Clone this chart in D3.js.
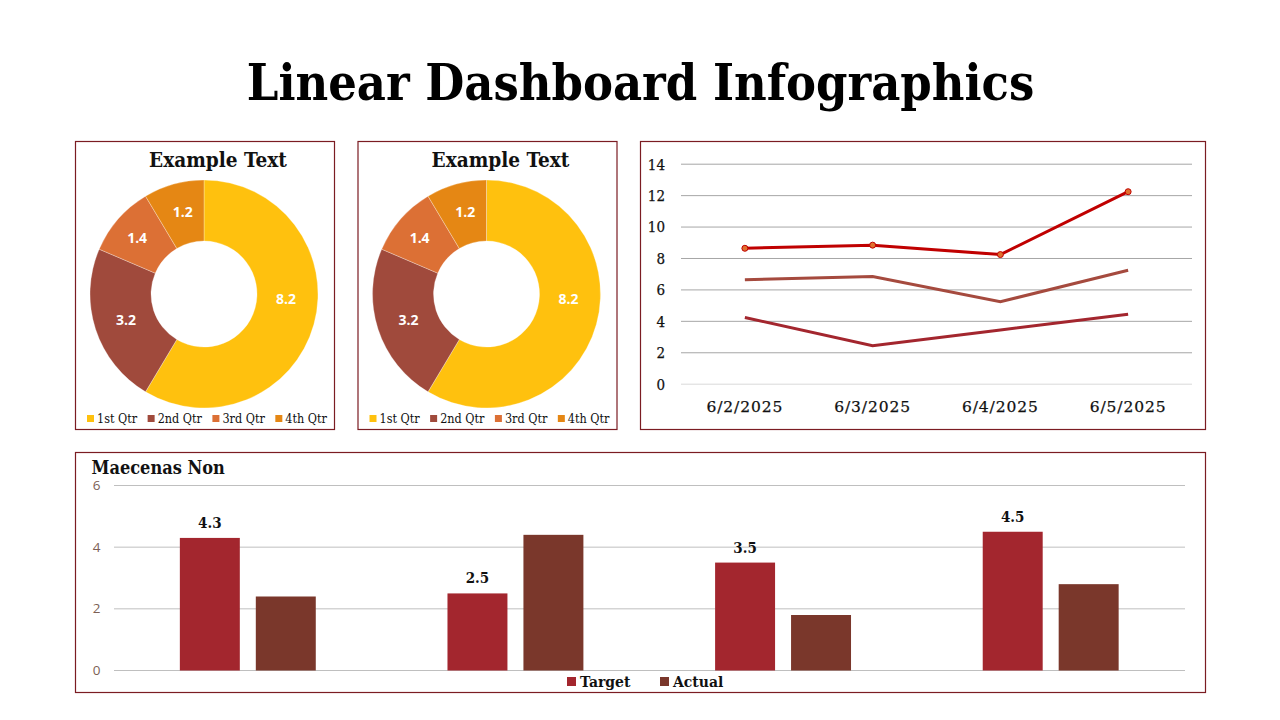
<!DOCTYPE html>
<html>
<head>
  <meta charset="utf-8">
  <title>Linear Dashboard Infographics</title>
<script src="https://d3js.org/d3.v7.min.js"></script>
  <style>
    html, body { margin: 0; padding: 0; background: #fff; }
    svg { display: block; }
    text { font-family: "DejaVu Serif Condensed", "DejaVu Serif", serif; fill: #111; }
    .panel { fill: #fff; stroke: #7b1c22; stroke-width: 1.2px; }
    .slice-label { font-family: "Open Sans", sans-serif; font-weight: 700; font-size: 14px; fill: #fff; text-anchor: middle; }
    .line-tick, .line-date { stroke: #111; stroke-width: 0.25px; }
  </style>
</head>
<body>
  <script>
    const pageTitle = "Linear Dashboard Infographics";

    // donuts
    const quarters = ["1st Qtr", "2nd Qtr", "3rd Qtr", "4th Qtr"];
    const sales = [8.2, 3.2, 1.4, 1.2];
    const quarterColors = ["#ffc10e", "#a04a3c", "#dc7035", "#e58714"];

    // stacked lines
    const dates = ["6/2/2025", "6/3/2025", "6/4/2025", "6/5/2025"];
    const series1 = [4.3, 2.5, 3.5, 4.5];
    const series2 = [2.4, 4.4, 1.8, 2.8];
    const series3 = [2, 2, 3, 5];
    const lineColors = ["#a3262e", "#a54a3e", "#c00000"];
    const lineTicks = [0, 2, 4, 6, 8, 10, 12, 14];

    // bars
    const barGroups = ["A", "B", "C", "D"];
    const target = [4.3, 2.5, 3.5, 4.5];
    const actual = [2.4, 4.4, 1.8, 2.8];
    const barKeys = ["Target", "Actual"];
    const barColors = ["#a3262e", "#7a372b"];
    const barTicks = [0, 2, 4, 6];

    const svg = d3.select("body").append("svg")
        .attr("width", 1280)
        .attr("height", 720);

    svg.append("text")
        .attr("x", 640.5)
        .attr("y", 100)
        .attr("text-anchor", "middle")
        .style("font-size", "50px")
        .style("font-weight", 700)
        .style("fill", "#000")
        .text(pageTitle);

    function panel(x, y, w, h) {
      svg.append("rect").attr("class", "panel")
          .attr("x", x).attr("y", y).attr("width", w).attr("height", h);
    }

    function donut(left) {
      panel(left, 141.5, 259, 288);
      const g = svg.append("g").attr("transform", "translate(" + (left + 128.5) + ",294)");
      const arc = d3.arc().innerRadius(53).outerRadius(114);
      const slices = d3.pie().sort(null)(sales);

      g.selectAll("path")
          .data(slices)
          .enter().append("path")
          .attr("d", arc)
          .attr("fill", (d, i) => quarterColors[i])
          .attr("stroke", "#fff")
          .attr("stroke-width", 0.3);

      // labels sit a little off the centroid, most of all on the big slice
      const nudgeX = [1.5, 1.5, -4, 1];
      const nudgeY = [-17, 0, -1, -2];
      g.selectAll(".slice-label")
          .data(slices)
          .enter().append("text")
          .attr("class", "slice-label")
          .attr("x", d => arc.centroid(d)[0] + nudgeX[d.index])
          .attr("y", d => arc.centroid(d)[1] + nudgeY[d.index] + 5)
          .text(d => d.data.toFixed(1));

      svg.append("text")
          .attr("x", left + 142.5)
          .attr("y", 167)
          .attr("text-anchor", "middle")
          .style("font-size", "20.6px")
          .style("font-weight", 700)
          .text("Example Text");

      // legend entries flow one after the other, by text width
      let cursor = left + 11.5;
      quarters.forEach((q, i) => {
        const item = svg.append("g").attr("transform", "translate(" + cursor + ",415)");
        item.append("rect")
            .attr("width", 7).attr("height", 7)
            .attr("fill", quarterColors[i]);
        const label = item.append("text")
            .attr("x", 10).attr("y", 8)
            .style("font-size", "12.5px")
            .text(q);
        cursor += label.node().getComputedTextLength() + 20.5;
      });
    }

    donut(75.5);
    donut(358);

    // stacked line chart
    panel(640.5, 141.5, 565, 288);
    const lineX = d3.scaleBand().domain(dates).range([681, 1192]);
    const lineY = d3.scaleLinear().domain([0, 14]).range([385, 165]);

    const rows = dates.map((d, i) => ({ date: d, a: series1[i], b: series2[i], c: series3[i] }));
    const stacked = d3.stack().keys(["a", "b", "c"])(rows);

    svg.selectAll(".line-grid")
        .data(lineTicks)
        .enter().append("line")
        .attr("class", "line-grid")
        .attr("x1", 681).attr("x2", 1192)
        .attr("y1", d => lineY(d) - 0.8)
        .attr("y2", d => lineY(d) - 0.8)
        .attr("stroke", d => d === 0 ? "#d9d9d9" : "#a6a6a6");

    svg.selectAll(".line-tick")
        .data(lineTicks)
        .enter().append("text")
        .attr("class", "line-tick")
        .attr("x", 665)
        .attr("y", d => lineY(d) + 4.5)
        .attr("text-anchor", "end")
        .style("font-size", "15px")
        .text(d => d);

    svg.selectAll(".line-date")
        .data(dates)
        .enter().append("text")
        .attr("class", "line-date")
        .attr("x", d => lineX(d) + lineX.bandwidth() / 2)
        .attr("y", 412)
        .attr("text-anchor", "middle")
        .style("font-family", "'DejaVu Serif', serif")
        .style("font-size", "15.5px")
        .style("letter-spacing", "0.9px")
        .text(d => d);

    const line = d3.line()
        .x(d => lineX(d.data.date) + lineX.bandwidth() / 2)
        .y(d => lineY(d[1]));

    svg.selectAll(".stack-line")
        .data(stacked)
        .enter().append("path")
        .attr("class", "stack-line")
        .attr("fill", "none")
        .attr("stroke", (d, i) => lineColors[i])
        .attr("stroke-width", 3)
        .attr("d", line);

    svg.selectAll(".dot")
        .data(stacked[2])
        .enter().append("circle")
        .attr("class", "dot")
        .attr("cx", d => lineX(d.data.date) + lineX.bandwidth() / 2)
        .attr("cy", d => lineY(d[1]))
        .attr("r", 3)
        .attr("fill", "#e0702e")
        .attr("stroke", "#c00000");

    // bar chart
    panel(75.5, 452.5, 1130, 240);
    const barX = d3.scaleBand().domain(barGroups).range([114, 1184.5]);
    const barInner = d3.scaleBand().domain(barKeys).range([0, barX.bandwidth()])
        .paddingInner(0.2105).paddingOuter(0.867);
    const barY = d3.scaleLinear().domain([0, 6]).range([670.5, 485.5]);

    svg.selectAll(".bar-grid")
        .data(barTicks)
        .enter().append("line")
        .attr("class", "bar-grid")
        .attr("x1", 114).attr("x2", 1185)
        .attr("y1", d => barY(d))
        .attr("y2", d => barY(d))
        .attr("stroke", "#bfbfbf");

    svg.selectAll(".bar-tick")
        .data(barTicks)
        .enter().append("text")
        .attr("class", "bar-tick")
        .attr("x", 100.5)
        .attr("y", d => barY(d) + 4.5)
        .attr("text-anchor", "end")
        .style("font-family", "'Open Sans', sans-serif")
        .style("font-size", "13.5px")
        .style("fill", "#7d5f55")
        .text(d => d);

    [target, actual].forEach((values, k) => {
      svg.selectAll(".bar" + k)
          .data(values)
          .enter().append("rect")
          .attr("class", "bar" + k)
          .attr("x", (d, i) => barX(barGroups[i]) + barInner(barKeys[k]))
          .attr("y", d => barY(d))
          .attr("width", barInner.bandwidth())
          .attr("height", d => barY(0) - barY(d))
          .attr("fill", barColors[k]);
    });

    svg.selectAll(".bar-label")
        .data(target)
        .enter().append("text")
        .attr("class", "bar-label")
        .attr("x", (d, i) => barX(barGroups[i]) + barInner("Target") + barInner.bandwidth() / 2)
        .attr("y", d => barY(d) - 10)
        .attr("text-anchor", "middle")
        .style("font-size", "15px")
        .style("font-weight", 700)
        .text(d => d.toFixed(1));

    svg.append("text")
        .attr("x", 91.5)
        .attr("y", 474)
        .style("font-size", "18px")
        .style("font-weight", 700)
        .text("Maecenas Non");

    const barLegend = d3.scalePoint().domain(barKeys).range([567, 660]);
    const barItem = svg.selectAll(null)
        .data(barKeys)
        .enter().append("g")
        .attr("transform", d => "translate(" + barLegend(d) + ",677)");
    barItem.append("rect")
        .attr("width", 9).attr("height", 9)
        .attr("fill", (d, i) => barColors[i]);
    barItem.append("text")
        .attr("x", 13).attr("y", 10)
        .style("font-size", "15.5px")
        .style("font-weight", 700)
        .text(d => d);
  </script>
</body>
</html>
